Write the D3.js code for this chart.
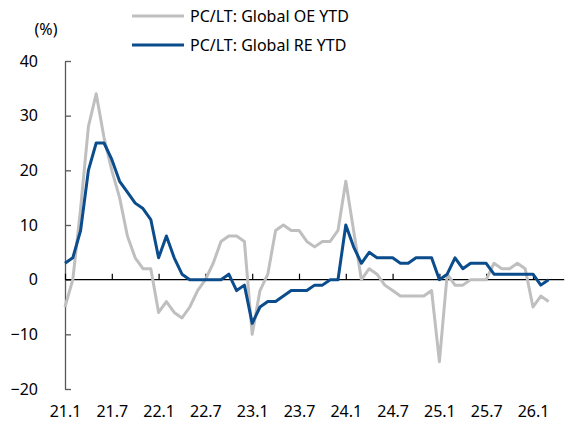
<!DOCTYPE html>
<html>
<head>
<meta charset="utf-8">
<script src="https://cdn.jsdelivr.net/npm/d3@7"></script>
<style>
  body { margin: 0; background: #fff; }
  text { font-family: "Noto Sans", "Open Sans", sans-serif; fill: #000; }
</style>
</head>
<body>
<div id="chart"></div>
<script>
// month labels (yy.m), one per data point
const months = [
  "21.1","21.2","21.3","21.4","21.5","21.6","21.7","21.8","21.9","21.10","21.11","21.12",
  "22.1","22.2","22.3","22.4","22.5","22.6","22.7","22.8","22.9","22.10","22.11","22.12",
  "23.1","23.2","23.3","23.4","23.5","23.6","23.7","23.8","23.9","23.10","23.11","23.12",
  "24.1","24.2","24.3","24.4","24.5","24.6","24.7","24.8","24.9","24.10","24.11","24.12",
  "25.1","25.2","25.3","25.4","25.5","25.6","25.7","25.8","25.9","25.10","25.11","25.12",
  "26.1","26.2","26.3"
];

// PC/LT: Global OE YTD (%)
const oeYtd = [
  -5, 0, 13, 28, 34, 26, 20, 15, 8, 4, 2, 2,
  -6, -4, -6, -7, -5, -2, 0, 3, 7, 8, 8, 7,
  -10, -2, 1, 9, 10, 9, 9, 7, 6, 7, 7, 9,
  18, 9, 0, 2, 1, -1, -2, -3, -3, -3, -3, -2,
  -15, 1, -1, -1, 0, 0, 0, 3, 2, 2, 3, 2,
  -5, -3, -4
];

// PC/LT: Global RE YTD (%)
const reYtd = [
  3, 4, 9, 20, 25, 25, 22, 18, 16, 14, 13, 11,
  4, 8, 4, 1, 0, 0, 0, 0, 0, 1, -2, -1,
  -8, -5, -4, -4, -3, -2, -2, -2, -1, -1, 0, 0,
  10, 6, 3, 5, 4, 4, 4, 3, 3, 4, 4, 4,
  0, 1, 4, 2, 3, 3, 3, 1, 1, 1, 1, 1,
  1, -1, 0
];

const xTicks = ["21.1","21.7","22.1","22.7","23.1","23.7","24.1","24.7","25.1","25.7","26.1"];
const yTicks = [40, 30, 20, 10, 0, -10, -20];

const seriesNames = ["PC/LT: Global OE YTD", "PC/LT: Global RE YTD"];
const seriesColors = ["#bfbfbf", "#0b4c8c"];

const width = 583, height = 425;
const margin = { left: 65, top: 61, bottom: 389 };
const step = 7.8;

const svg = d3.select("#chart")
  .append("svg")
  .attr("width", width)
  .attr("height", height);

const x = d3.scalePoint()
  .domain(months)
  .range([margin.left, margin.left + (months.length - 1) * step]);

const y = d3.scaleLinear().domain([-20, 40]).range([margin.bottom, margin.top]);

// Y axis, ticks point inward
const yAxis = svg.append("g")
  .attr("transform", `translate(${margin.left},0)`)
  .call(d3.axisLeft(y).tickValues(yTicks).tickSize(-6).tickPadding(27).tickSizeOuter(0));
yAxis.select(".domain").attr("stroke", "#595959").attr("stroke-width", 1.3);
yAxis.selectAll(".tick line").attr("stroke", "#595959").attr("stroke-width", 1.3);
yAxis.selectAll("text").style("font-size", "16px").attr("fill", "#000");

// X axis on the zero line, ticks going up, labels at the bottom
const xAxis = svg.append("g")
  .attr("transform", `translate(0,${y(0)})`)
  .call(d3.axisBottom(x).tickValues(xTicks).tickSize(-6).tickPadding(126).tickSizeOuter(0));
xAxis.select(".domain").remove();
xAxis.selectAll(".tick line").attr("stroke", "#000").attr("stroke-width", 1.2);
xAxis.selectAll("text").style("font-size", "16px").attr("fill", "#000");

svg.append("line")
  .attr("x1", margin.left)
  .attr("x2", x(months[months.length - 1]) + 2 * step)
  .attr("y1", y(0))
  .attr("y2", y(0))
  .attr("stroke", "#000")
  .attr("stroke-width", 1.2);

// unit label
svg.append("text")
  .attr("x", 46)
  .attr("y", 29)
  .attr("dy", "0.35em")
  .attr("text-anchor", "middle")
  .style("font-size", "16px")
  .text("(%)");

// lines
const line = d3.line()
  .x((d, i) => x(months[i]))
  .y((d) => y(d));

[oeYtd, reYtd].forEach((values, k) => {
  svg.append("path")
    .datum(values)
    .attr("fill", "none")
    .attr("stroke", seriesColors[k])
    .attr("stroke-width", 3)
    .attr("stroke-linejoin", "round")
    .attr("d", line);
});

// legend
const legend = svg.append("g");
seriesNames.forEach((name, k) => {
  const ly = 16 + k * 29;
  legend.append("line")
    .attr("x1", 132)
    .attr("x2", 184)
    .attr("y1", ly)
    .attr("y2", ly)
    .attr("stroke", seriesColors[k])
    .attr("stroke-width", 3);
  legend.append("text")
    .attr("x", 190)
    .attr("y", ly)
    .attr("dy", "0.35em")
    .style("font-size", "16px")
    .text(name);
});
</script>
</body>
</html>
